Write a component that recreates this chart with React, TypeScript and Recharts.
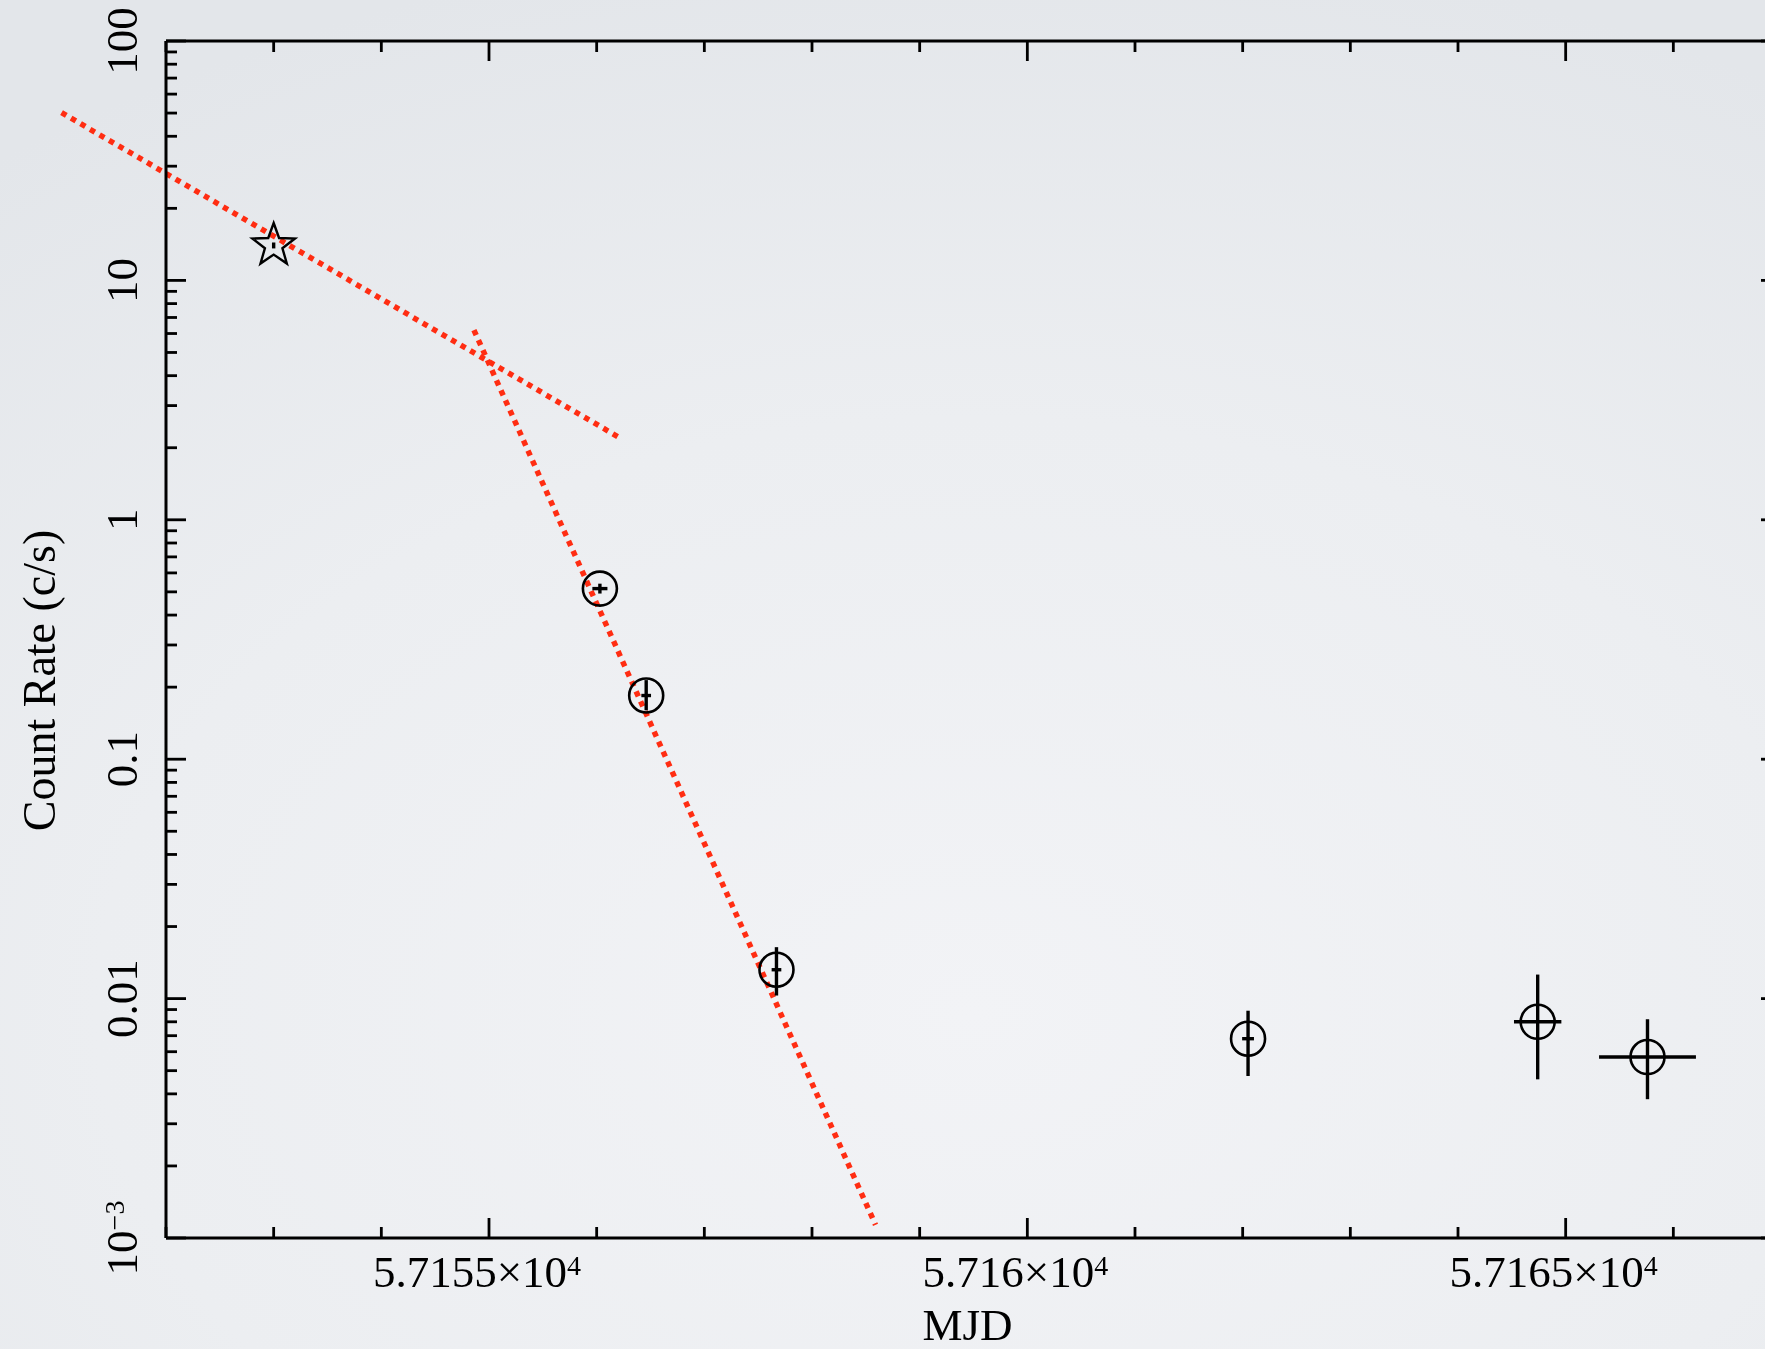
import React from 'react';
import { ScatterChart, Scatter, XAxis, YAxis, ErrorBar, ReferenceLine } from 'recharts';

// ---- data ----
const obsMjd = [57156.03, 57156.46, 57157.67, 57162.05, 57164.74, 57165.76];
const obsRate = [0.516, 0.1845, 0.0132, 0.0068, 0.008, 0.0057];
const obsRateLow = [0.492, 0.16, 0.0103, 0.00475, 0.0046, 0.0038];
const obsRateHigh = [0.541, 0.214, 0.0164, 0.0089, 0.0126, 0.0082];
const obsMjdErr = [0.07, 0.045, 0.045, 0.055, 0.22, 0.45];

const starMjd = [57153.0];
const starRate = [14.0];
const starRateLow = [13.6];
const starRateHigh = [14.4];
const starMjdErr = [0.012];

const fit1Mjd = [57151.03, 57156.2];
const fit1Rate = [50.2, 2.22];
const fit2Mjd = [57154.86, 57158.59];
const fit2Rate = [6.2, 0.001135];

const xDomain = [57152, 57167];
const xMinorTicks = [57152, 57153, 57154, 57155, 57156, 57157, 57158, 57159, 57160, 57161, 57162, 57163, 57164, 57165, 57166, 57167];
const xMajorTicks = [57155, 57160, 57165];

const yDomain = [0.001, 100];
const yDecades = [0.001, 0.01, 0.1, 1, 10, 100];
const yMajorLabels = ['10', '0.01', '0.1', '1', '10', '100'];
const yMinorMultipliers = [2, 3, 4, 5, 6, 7, 8, 9];

// ---- derived tables ----
const obsData = obsMjd.map((m, i) => ({
  x: m,
  y: obsRate[i],
  yErr: [obsRate[i] - obsRateLow[i], obsRateHigh[i] - obsRate[i]],
  xErr: obsMjdErr[i],
}));
const starData = starMjd.map((m, i) => ({
  x: m,
  y: starRate[i],
  yErr: [starRate[i] - starRateLow[i], starRateHigh[i] - starRate[i]],
  xErr: starMjdErr[i],
}));
const yTicks: number[] = [];
yDecades.forEach((d, i) => {
  yTicks.push(d);
  if (i < yDecades.length - 1) yMinorMultipliers.forEach((k) => yTicks.push(d * k));
});

const FONT = '"Liberation Serif", "Times New Roman", Times, serif';
const RED = '#ff2d12';
const MAJOR_LEN = 20;
const MINOR_LEN = 11;
const TICK_W = 2.8;
const ERR_W = 3.4;

const isYMajor = (v: number) => yDecades.findIndex((d) => Math.abs(Math.log10(d) - Math.log10(v)) < 1e-6);
const isXMajor = (v: number) => xMajorTicks.indexOf(v) >= 0;

const LeftTick = (props: any) => {
  const { x, y, payload } = props;
  const idx = isYMajor(payload.value);
  const major = idx >= 0;
  const bx = x - 29;
  return (
    <g>
      <line x1={x} y1={y} x2={x + (major ? MAJOR_LEN : MINOR_LEN)} y2={y} stroke="#000" strokeWidth={TICK_W} />
      {major && (
        <text
          x={bx}
          y={y}
          transform={`rotate(-90, ${bx}, ${y})`}
          textAnchor="middle"
          fontFamily={FONT}
          fontSize={45}
          fill="#000"
        >
          {idx === 0 ? (
            <>
              <tspan>10</tspan>
              <tspan dy={-13} fontSize={28}>−3</tspan>
            </>
          ) : (
            yMajorLabels[idx]
          )}
        </text>
      )}
    </g>
  );
};

const RightTick = (props: any) => {
  const { x, y, payload } = props;
  const major = isYMajor(payload.value) >= 0;
  return <line x1={x} y1={y} x2={x - (major ? MAJOR_LEN : MINOR_LEN)} y2={y} stroke="#000" strokeWidth={TICK_W} />;
};

const BottomTick = (props: any) => {
  const { x, y, payload } = props;
  const major = isXMajor(payload.value);
  const label = (payload.value / 1e4).toString();
  return (
    <g>
      <line x1={x} y1={y} x2={x} y2={y - (major ? MAJOR_LEN : MINOR_LEN)} stroke="#000" strokeWidth={TICK_W} />
      {major && (
        <text x={x - 12} y={y + 49} textAnchor="middle" fontFamily={FONT} fontSize={45} fill="#000">
          <tspan>{label}×10</tspan>
          <tspan dy={-12} fontSize={28}>4</tspan>
        </text>
      )}
    </g>
  );
};

const TopTick = (props: any) => {
  const { x, y, payload } = props;
  const major = isXMajor(payload.value);
  return <line x1={x} y1={y} x2={x} y2={y + (major ? MAJOR_LEN : MINOR_LEN)} stroke="#000" strokeWidth={TICK_W} />;
};

const XTitle = (props: any) => {
  const vb = props.viewBox || { x: 166, y: 1238, width: 1615, height: 111 };
  return (
    <text x={vb.x + vb.width / 2 - 6} y={vb.y + 102} textAnchor="middle" fontFamily={FONT} fontSize={45} fill="#000">
      MJD
    </text>
  );
};

const YTitle = (props: any) => {
  const vb = props.viewBox || { x: 0, y: 41, width: 166, height: 1197 };
  const tx = vb.x + 55;
  const ty = vb.y + vb.height / 2 + 41;
  return (
    <text x={tx} y={ty} transform={`rotate(-90, ${tx}, ${ty})`} textAnchor="middle" fontFamily={FONT} fontSize={46} fill="#000">
      Count Rate (c/s)
    </text>
  );
};

const CircleShape = (props: any) => {
  const { cx, cy } = props;
  if (cx == null || cy == null) return null;
  return <circle cx={cx} cy={cy} r={17} fill="none" stroke="#000" strokeWidth={2.6} />;
};

const StarShape = (props: any) => {
  const { cx, cy } = props;
  if (cx == null || cy == null) return null;
  const R = 22.4;
  const r = 9.2;
  const pts: string[] = [];
  for (let i = 0; i < 10; i++) {
    const a = -Math.PI / 2 + (i * Math.PI) / 5;
    const rad = i % 2 === 0 ? R : r;
    pts.push(`${cx + rad * Math.cos(a)},${cy + rad * Math.sin(a)}`);
  }
  return <polygon points={pts.join(' ')} fill="none" stroke="#000" strokeWidth={2.4} strokeLinejoin="miter" />;
};

export default function App() {
  return (
    <div
      style={{
        position: 'fixed',
        left: 0,
        top: 0,
        width: 1765,
        height: 1349,
        overflow: 'hidden',
        background: 'radial-gradient(ellipse 90% 80% at 55% 75%, #f2f3f6 0%, #eceef1 55%, #e3e6ea 100%)',
      }}
    >
      <style>{`.recharts-errorBar line { stroke-width: ${ERR_W}px; stroke: #000; }`}</style>
      <ScatterChart width={1800} height={1349} margin={{ top: 40, right: 18, bottom: 0, left: 0 }}>
        <XAxis
          xAxisId="b"
          dataKey="x"
          type="number"
          orientation="bottom"
          domain={xDomain}
          allowDataOverflow
          ticks={xMinorTicks}
          interval={0}
          height={111}
          tickSize={0}
          tickMargin={0}
          tickLine={false}
          tick={<BottomTick />}
          axisLine={{ stroke: '#000', strokeWidth: 3 }}
          label={<XTitle />}
        />
        <XAxis
          xAxisId="t"
          dataKey="x"
          type="number"
          orientation="top"
          domain={xDomain}
          allowDataOverflow
          ticks={xMinorTicks}
          interval={0}
          height={1}
          tickSize={0}
          tickMargin={0}
          tickLine={false}
          tick={<TopTick />}
          axisLine={{ stroke: '#000', strokeWidth: 3 }}
        />
        <YAxis
          yAxisId="l"
          dataKey="y"
          type="number"
          scale="log"
          orientation="left"
          domain={yDomain}
          allowDataOverflow
          ticks={yTicks}
          interval={0}
          width={166}
          tickSize={0}
          tickMargin={0}
          tickLine={false}
          tick={<LeftTick />}
          axisLine={{ stroke: '#000', strokeWidth: 3 }}
          label={<YTitle />}
        />
        <YAxis
          yAxisId="r"
          dataKey="y"
          type="number"
          scale="log"
          orientation="right"
          domain={yDomain}
          allowDataOverflow
          ticks={yTicks}
          interval={0}
          width={1}
          tickSize={0}
          tickMargin={0}
          tickLine={false}
          tick={<RightTick />}
          axisLine={{ stroke: '#000', strokeWidth: 3 }}
        />
        <ReferenceLine
          xAxisId="b"
          yAxisId="l"
          segment={[
            { x: fit1Mjd[0], y: fit1Rate[0] },
            { x: fit1Mjd[1], y: fit1Rate[1] },
          ]}
          ifOverflow="visible"
          stroke={RED}
          strokeWidth={5.5}
          strokeDasharray="5.5 5.5"
        />
        <ReferenceLine
          xAxisId="b"
          yAxisId="l"
          segment={[
            { x: fit2Mjd[0], y: fit2Rate[0] },
            { x: fit2Mjd[1], y: fit2Rate[1] },
          ]}
          ifOverflow="visible"
          stroke={RED}
          strokeWidth={5.5}
          strokeDasharray="5.5 5.5"
        />
        <Scatter xAxisId="b" yAxisId="l" data={starData} shape={<StarShape />} isAnimationActive={false}>
          <ErrorBar dataKey="yErr" direction="y" width={0} stroke="#000" strokeWidth={ERR_W} isAnimationActive={false} />
          <ErrorBar dataKey="xErr" direction="x" width={0} stroke="#000" strokeWidth={ERR_W} isAnimationActive={false} />
        </Scatter>
        <Scatter xAxisId="b" yAxisId="l" data={obsData} shape={<CircleShape />} isAnimationActive={false}>
          <ErrorBar dataKey="yErr" direction="y" width={0} stroke="#000" strokeWidth={ERR_W} isAnimationActive={false} />
          <ErrorBar dataKey="xErr" direction="x" width={0} stroke="#000" strokeWidth={ERR_W} isAnimationActive={false} />
        </Scatter>
      </ScatterChart>
    </div>
  );
}
